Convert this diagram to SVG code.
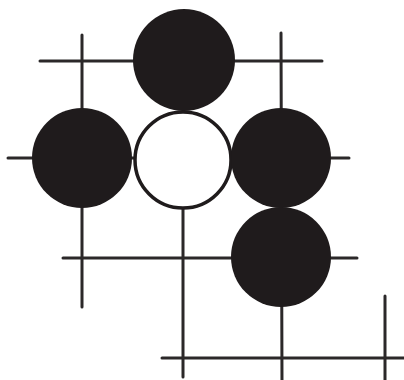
<svg xmlns="http://www.w3.org/2000/svg" width="404" height="380" viewBox="0 0 404 380">
<style>
.ln{stroke:#2b2829;stroke-width:3;stroke-linecap:round;fill:none}
.b{fill:#1f1b1c}
.w{fill:#fff;stroke:#1f1b1c;stroke-width:3.5}
</style>
<rect width="404" height="380" fill="#fff"/>
<g id="grid">
<line class="ln" x1="40" y1="61" x2="322" y2="61"/>
<line class="ln" x1="8" y1="158" x2="349" y2="158"/>
<line class="ln" x1="63" y1="258" x2="357" y2="258"/>
<line class="ln" x1="162" y1="358" x2="404" y2="358"/>
<line class="ln" x1="82" y1="35" x2="82" y2="307"/>
<line class="ln" x1="183" y1="60" x2="183" y2="377"/>
<line class="ln" x1="281" y1="33" x2="282" y2="382"/>
<line class="ln" x1="385" y1="296" x2="385" y2="382"/>
</g>
<g id="stone-top"><circle class="b" cx="184" cy="60" r="51"/></g>
<g id="stone-left"><circle class="b" cx="82" cy="158" r="50"/></g>
<g id="stone-white"><circle class="w" cx="183" cy="160" r="48"/></g>
<g id="stone-right"><circle class="b" cx="281" cy="158" r="50"/></g>
<g id="stone-lower"><circle class="b" cx="281" cy="257" r="50"/></g>
</svg>
